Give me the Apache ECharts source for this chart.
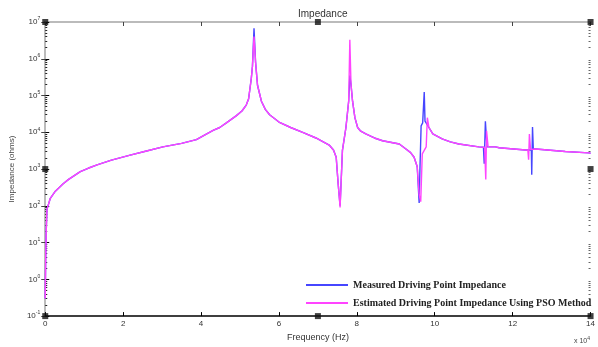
<!DOCTYPE html>
<html>
<head>
<meta charset="utf-8">
<script src="https://cdn.jsdelivr.net/npm/echarts@6/dist/echarts.min.js"></script>
<style>
html,body{margin:0;padding:0;background:#fff;}
#main{width:598px;height:347px;}
</style>
</head>
<body>
<div id="main"></div>
<script>
// frequency in units of x 10^4 Hz, impedance in ohms
var measuredFreq = [0, 0.01, 0.025, 0.044, 0.13, 0.26, 0.46, 0.6, 0.90, 1.1, 1.33, 1.7, 2.18, 2.6, 3.02, 3.5, 3.88, 4.1, 4.31, 4.48,
    4.65, 4.9, 5.05, 5.16, 5.22, 5.29, 5.32, 5.36, 5.40, 5.45, 5.55, 5.65, 5.76, 6.0, 6.3, 6.61, 6.95, 7.29, 7.4, 7.47,
    7.52, 7.57, 7.63, 7.72, 7.79, 7.82, 7.85, 7.89, 7.95, 8.02, 8.1, 8.23, 8.45, 8.66, 9.09, 9.26, 9.38, 9.47, 9.55, 9.60,
    9.62, 9.65, 9.69, 9.73, 9.75, 9.85, 9.95, 10.19, 10.4, 10.62, 11.13, 11.25, 11.27, 11.30, 11.34, 11.56, 11.65, 12.33, 12.48, 12.49,
    12.51, 12.53, 12.59, 13.35, 13.95, 14];
var measuredZ = [0.3, 3, 20, 80, 160, 250, 400, 525, 850, 1050, 1300, 1750, 2400, 3100, 4000, 5000, 6300, 8500, 11200, 13500,
    18000, 28000, 38000, 55000, 80000, 290000, 630000, 6.8e6, 800000, 190000, 70000, 42000, 30000, 19000, 13500, 10000, 7000, 4500, 3300, 2100,
    400, 100, 3200, 13500, 70000, 350000, 200000, 70000, 25000, 13500, 10700, 9000, 7000, 5900, 4800, 3500, 2800, 2100, 1150, 120,
    1000, 15000, 18000, 125000, 20000, 13500, 9000, 6600, 5500, 4800, 4000, 3900, 1400, 20000, 4000, 4000, 3800, 3300, 3300, 700,
    14000, 3500, 3500, 3000, 2750, 2700];

var estimatedFreq = [0, 0.01, 0.025, 0.044, 0.13, 0.26, 0.46, 0.6, 0.90, 1.1, 1.33, 1.7, 2.18, 2.6, 3.02, 3.5, 3.88, 4.1, 4.31, 4.48,
    4.65, 4.9, 5.05, 5.16, 5.22, 5.29, 5.32, 5.36, 5.40, 5.45, 5.55, 5.65, 5.76, 6.0, 6.3, 6.61, 6.95, 7.29, 7.4, 7.47,
    7.52, 7.57, 7.63, 7.72, 7.79, 7.82, 7.85, 7.89, 7.95, 8.02, 8.1, 8.23, 8.45, 8.66, 9.09, 9.26, 9.38, 9.47, 9.55, 9.60,
    9.64, 9.68, 9.78, 9.81, 9.85, 9.95, 10.19, 10.4, 10.62, 11.13, 11.28, 11.31, 11.33, 11.37, 11.56, 11.65, 12.33, 12.39, 12.41, 12.43,
    12.46, 12.59, 13.35, 13.95, 14];
var estimatedZ = [0.3, 3, 20, 80, 160, 250, 400, 525, 850, 1050, 1300, 1750, 2400, 3100, 4000, 5000, 6300, 8500, 11200, 13500,
    18000, 28000, 38000, 55000, 80000, 290000, 630000, 4.0e6, 800000, 190000, 70000, 42000, 30000, 19000, 13500, 10000, 7000, 4500, 3300, 2100,
    400, 90, 3200, 13500, 70000, 3.3e6, 200000, 70000, 25000, 13500, 10700, 9000, 7000, 5900, 4800, 3500, 2800, 2100, 1150, 200,
    130, 2600, 4000, 25000, 13500, 9000, 6600, 5500, 4800, 4000, 3900, 520, 11000, 4000, 4000, 3800, 3300, 3300, 1800, 9000,
    3400, 3500, 3000, 2750, 2700];

var seriesNames = ['Measured Driving Point Impedance', 'Estimated Driving Point Impedance Using PSO Method'];

// log minor tick values 2..9 in each decade
var minorTickZ = [];
for (var d = -1; d < 7; d++) {
    for (var m = 2; m <= 9; m++) {
        minorTickZ.push(m * Math.pow(10, d));
    }
}

// selection handles of the axes box (data coords)
var handleFreq = [0, 7, 14, 0, 14, 0, 7, 14];
var handleZ = [0.1, 0.1, 0.1, 1000, 1000, 1e7, 1e7, 1e7];

function zip(a, b) {
    var out = [];
    for (var i = 0; i < a.length; i++) {
        out.push([a[i], b[i]]);
    }
    return out;
}

var chart = echarts.init(document.getElementById('main'));

var fontSans = 'Liberation Sans, Arial, sans-serif';

function powLabel(v) {
    var e = Math.round(Math.log(v) / Math.LN10);
    return '{b|10}{s|' + e + '}';
}

// extra log axis that only carries the minor ticks
function minorAxis(pos, color) {
    return {
        type: 'log', logBase: 10, min: 0.1, max: 1e7, position: pos,
        axisLine: {show: false},
        axisTick: {show: true, inside: true, length: 2, customValues: minorTickZ, lineStyle: {color: color}},
        axisLabel: {show: false},
        splitLine: {show: false}
    };
}

var option = {
    animation: false,
    backgroundColor: '#fff',
    title: {
        text: 'Impedance',
        left: 293,
        top: 4,
        textStyle: {fontSize: 10, fontWeight: 'normal', color: '#333', fontFamily: fontSans}
    },
    legend: {
        data: seriesNames,
        orient: 'vertical',
        left: 306,
        top: 279,
        padding: 0,
        icon: 'rect',
        itemWidth: 42,
        itemHeight: 2,
        itemGap: 6,
        textStyle: {fontFamily: 'Liberation Serif, Times New Roman, serif', fontWeight: 'bold', fontSize: 10, color: '#222', lineHeight: 12}
    },
    grid: {left: 45, right: 6, top: 22, bottom: 23},
    xAxis: [{
        type: 'value', min: 0, max: 14, interval: 2, position: 'bottom',
        name: 'Frequency (Hz)', nameLocation: 'middle', nameGap: 12,
        nameTextStyle: {fontSize: 9, color: '#333', fontFamily: fontSans},
        axisLine: {lineStyle: {color: '#000', width: 1.5}},
        axisTick: {inside: true, length: 4, lineStyle: {color: '#000'}},
        axisLabel: {fontSize: 8, color: '#333', margin: 4, fontFamily: fontSans},
        splitLine: {show: false}
    }, {
        type: 'value', min: 0, max: 14, interval: 2, position: 'top',
        axisLine: {lineStyle: {color: '#bbb', width: 2}},
        axisTick: {inside: true, length: 4, lineStyle: {color: '#444'}},
        axisLabel: {show: false},
        splitLine: {show: false}
    }],
    yAxis: [{
        type: 'log', logBase: 10, min: 0.1, max: 1e7, splitNumber: 8, position: 'left',
        name: 'Impedance (ohms)', nameLocation: 'middle', nameGap: 28,
        nameTextStyle: {fontSize: 8, color: '#444', fontFamily: fontSans},
        axisLine: {show: true, lineStyle: {color: '#000', width: 2}},
        axisTick: {show: true, inside: true, length: 4, lineStyle: {color: '#000'}},
        axisLabel: {
            formatter: powLabel, margin: 5,
            rich: {
                b: {fontSize: 8, color: '#333', fontFamily: fontSans},
                s: {fontSize: 5, color: '#333', fontFamily: fontSans, verticalAlign: 'top', padding: [0, 0, 6, 0]}
            }
        },
        splitLine: {show: false}
    }, {
        type: 'log', logBase: 10, min: 0.1, max: 1e7, splitNumber: 8, position: 'right',
        axisLine: {show: true, lineStyle: {color: '#bbb', width: 2}},
        axisTick: {show: true, inside: true, length: 4, lineStyle: {color: '#444'}},
        axisLabel: {show: false},
        splitLine: {show: false}
    }, minorAxis('left', '#222'), minorAxis('right', '#666')],
    graphic: [{
        type: 'text', left: 574, top: 336,
        style: {
            text: '{b|x 10}{s|4}',
            rich: {
                b: {fontSize: 7, fill: '#444', fontFamily: fontSans},
                s: {fontSize: 5, fill: '#444', fontFamily: fontSans, verticalAlign: 'top', padding: [0, 0, 5, 0]}
            }
        }
    }],
    series: [{
        name: seriesNames[0],
        type: 'line',
        data: zip(measuredFreq, measuredZ),
        symbol: 'none',
        color: '#4646ff',
        lineStyle: {width: 1.4, color: '#4646ff'},
        z: 2
    }, {
        name: seriesNames[1],
        type: 'line',
        data: zip(estimatedFreq, estimatedZ),
        symbol: 'none',
        color: '#ff44ff',
        lineStyle: {width: 1.4, color: '#ff44ff'},
        z: 3
    }, {
        name: 'handles',
        type: 'scatter',
        data: zip(handleFreq, handleZ),
        symbol: 'rect',
        symbolSize: 6,
        itemStyle: {color: '#111'},
        silent: true,
        clip: false,
        z: 5
    }]
};

chart.setOption(option);
</script>
</body>
</html>
